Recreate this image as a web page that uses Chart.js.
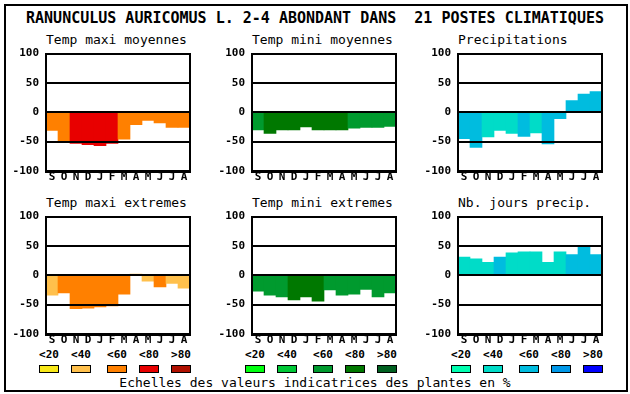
<!DOCTYPE html>
<html>
<head>
<meta charset="utf-8">
<script src="https://cdn.jsdelivr.net/npm/chart.js@4.4.1/dist/chart.umd.min.js"></script>
<style>
  html, body { margin:0; padding:0; background:#fff; }
  #page { position:relative; width:630px; height:394px; overflow:hidden; font-family:"DejaVu Sans Mono", monospace; color:#000; }
  #frame { position:absolute; left:4px; top:4px; width:620px; height:384px; border:2px solid #000; }
  .txt { position:absolute; white-space:pre; line-height:1; }
  canvas { position:absolute; }
  .box { position:absolute; width:18px; height:6px; border:1px solid #000; }
</style>
</head>
<body>
<div id="page">
  <div id="frame"></div>
  <div class="txt" style="left:0;width:630px;text-align:center;top:11px;font-size:15px;font-weight:bold;">RANUNCULUS AURICOMUS L. 2-4 ABONDANT DANS  21 POSTES CLIMATIQUES</div>
  <div class="txt" style="left:0;width:630px;text-align:center;top:376px;font-size:13px;">Echelles des valeurs indicatrices des plantes en %</div>
</div>
<script>
// ── données ──────────────────────────────────────────
const months = ["S","O","N","D","J","F","M","A","M","J","J","A"];
const classLabels = ["<20","<40","<60","<80",">80"];

const warmColors  = ["#f8e818","#ffc04c","#ff8000","#e80000","#b01000"];
const greenColors = ["#00ff10","#00c837","#009a2e","#007800","#006020"];
const blueColors  = ["#00ffb0","#00dcc8","#00bcdf","#0098e8","#0000ff"];

const tmaxMoy     = [-31,-49,-53,-55,-57,-53,-46,-21,-14,-18,-26,-26];
const tmaxMoyCls  = [2,2,3,3,3,3,2,2,2,2,2,2];
const tminMoy     = [-30,-36,-30,-30,-25,-30,-30,-30,-27,-26,-26,-24];
const tminMoyCls  = [2,3,3,3,3,3,3,3,2,2,2,2];
const precip      = [-45,-60,-42,-31,-36,-41,-35,-54,-11,20,31,35];
const precipCls   = [2,2,1,1,1,2,1,2,2,2,2,2];
const tmaxExt     = [-34,-30,-57,-56,-54,-52,-32,2,-10,-20,-14,-22];
const tmaxExtCls  = [1,2,2,2,2,2,2,1,1,2,1,1];
const tminExt     = [-27,-34,-37,-42,-37,-44,-25,-34,-32,-24,-37,-30];
const tminExtCls  = [2,2,2,3,3,3,2,2,2,2,2,2];
const joursPrecip = [31,28,22,31,38,40,40,22,40,35,50,35];
const joursPrecipCls = [1,1,1,2,1,1,1,1,1,2,2,2];

const yTicks = [-100,-50,0,50,100];

// ── mise en page ─────────────────────────────────────
const colLeft = [46,252,458];
const rowTop  = [51,214];
const titleTop = [33,196];
const PLOT_W = 144, PLOT_H = 120, AXIS_W = 40, PAD_T = 10, PAD_R = 8, XAX_H = 14;

const panels = [
  { title:"Temp maxi moyennes", data:tmaxMoy,  cls:tmaxMoyCls,  pal:warmColors,  col:0, row:0 },
  { title:"Temp mini moyennes", data:tminMoy,  cls:tminMoyCls,  pal:greenColors, col:1, row:0 },
  { title:"Precipitations",     data:precip,   cls:precipCls,   pal:blueColors,  col:2, row:0 },
  { title:"Temp maxi extremes", data:tmaxExt,  cls:tmaxExtCls,  pal:warmColors,  col:0, row:1 },
  { title:"Temp mini extremes", data:tminExt,  cls:tminExtCls,  pal:greenColors, col:1, row:1 },
  { title:"Nb. jours precip.",  data:joursPrecip, cls:joursPrecipCls, pal:blueColors, col:2, row:1 },
];

const $page = document.getElementById("page");

// cadre noir autour de la zone de tracé
const framePlugin = {
  id:"frame",
  afterDraw(c){
    const a = c.chartArea, ctx = c.ctx;
    ctx.save();
    ctx.strokeStyle = "#000"; ctx.lineWidth = 2;
    ctx.strokeRect(Math.round(a.left), Math.round(a.top), Math.round(a.right-a.left), Math.round(a.bottom-a.top));
    ctx.restore();
  }
};

const tickFont = { family:"DejaVu Sans Mono", size:11, weight:"bold", lineHeight:1 };

panels.forEach(p=>{
  const left = colLeft[p.col], top = rowTop[p.row];
  const t = document.createElement("div");
  t.className = "txt";
  t.style.cssText = "left:"+left+"px;top:"+titleTop[p.row]+"px;font-size:13px;";
  t.textContent = p.title;
  $page.appendChild(t);

  const cv = document.createElement("canvas");
  const w = AXIS_W+PLOT_W+PAD_R, h = PAD_T+PLOT_H+XAX_H;
  cv.width = w; cv.height = h;
  cv.style.left = (left-AXIS_W)+"px"; cv.style.top = (top-PAD_T)+"px";
  cv.style.width = w+"px"; cv.style.height = h+"px";
  $page.appendChild(cv);

  new Chart(cv.getContext("2d"), {
    type:"bar",
    data:{ labels:months, datasets:[{
      data:p.data,
      backgroundColor:p.cls.map(k=>p.pal[k]),
      borderWidth:0,
      categoryPercentage:1, barPercentage:1,
    }]},
    options:{
      responsive:false, animation:false, events:[],
      layout:{ padding:{ top:PAD_T, right:PAD_R, left:0, bottom:0 } },
      plugins:{ legend:{display:false}, tooltip:{enabled:false} },
      scales:{
        x:{
          grid:{ display:false, drawTicks:false },
          border:{ display:false },
          ticks:{ color:"#000", font:tickFont, padding:1, maxRotation:0, autoSkip:false },
          afterFit:(s)=>{ s.height = XAX_H; },
        },
        y:{
          min:-100, max:100,
          afterBuildTicks:(s)=>{ s.ticks = yTicks.map(v=>({value:v})); },
          grid:{ color:"#000", lineWidth:2, drawTicks:false, z:1 },
          border:{ display:false },
          ticks:{ color:"#000", font:tickFont, padding:7 },
          afterFit:(s)=>{ s.width = AXIS_W; },
        },
      },
    },
    plugins:[framePlugin],
  });

  // légende des classes sous chaque colonne (une fois, rangée du bas)
  if (p.row === 1) {
    const offs = [-7,25,61,93,125];
    offs.forEach((o,i)=>{
      const b = document.createElement("div");
      b.className = "box";
      b.style.left = (left+o)+"px"; b.style.top = "365px";
      b.style.background = p.pal[i];
      $page.appendChild(b);
      const l = document.createElement("div");
      l.className = "txt";
      l.style.cssText = "left:"+(left+o-10)+"px;width:40px;text-align:center;top:349px;font-size:11px;font-weight:bold;";
      l.textContent = classLabels[i];
      $page.appendChild(l);
    });
  }
});
</script>
</body>
</html>
